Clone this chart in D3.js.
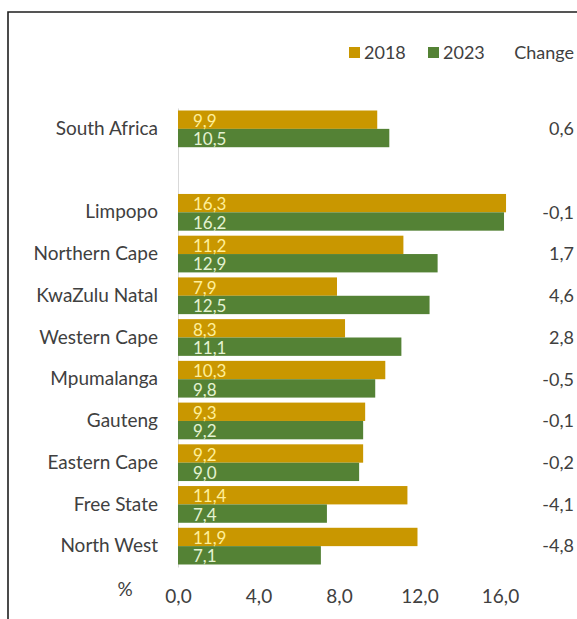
<!DOCTYPE html>
<html>
<head>
<meta charset="utf-8">
<script src="https://cdn.jsdelivr.net/npm/d3@7"></script>
<style>
  html, body { margin: 0; padding: 0; background: #fff; }
  svg { display: block; }
  text { font-family: Lato, "Open Sans", sans-serif; }
</style>
</head>
<body>
<svg id="chart" width="577" height="619"></svg>
<script>
// Regions (South Africa first, then the provinces)
const regions = ["South Africa", "Limpopo", "Northern Cape", "KwaZulu Natal", "Western Cape",
  "Mpumalanga", "Gauteng", "Eastern Cape", "Free State", "North West"];
const values2018 = [9.9, 16.3, 11.2, 7.9, 8.3, 10.3, 9.3, 9.2, 11.4, 11.9];
const values2023 = [10.5, 16.2, 12.9, 12.5, 11.1, 9.8, 9.2, 9.0, 7.4, 7.1];
const changes = [0.6, -0.1, 1.7, 4.6, 2.8, -0.5, -0.1, -0.2, -4.1, -4.8];
const years = ["2018", "2023"];
const xTicks = [0, 4, 8, 12, 16];

const colors = { "2018": "#c99700", "2023": "#548235" };
const valueColors = { "2018": "#ffef9a", "2023": "#e4f2d2" };
const textColor = "#404040";

// Comma decimal separator, plain hyphen for negatives
const locale = d3.formatLocale({ decimal: ",", thousands: " ", grouping: [3], currency: ["", ""], minus: "-" });
const fmt = locale.format(".1f");

const svg = d3.select("#chart");

// Frame
svg.append("path")
  .attr("d", "M8,625 L8,12 L585,12")
  .attr("fill", "none")
  .attr("stroke", "#1e1e1e")
  .attr("stroke-width", 1.6);

// Spacer row between the national figure and the provinces
const GAP = "__gap__";
const yDomain = [regions[0], GAP, ...regions.slice(1)];

const x = d3.scaleLinear().domain([0, 16]).range([178, 500]);
const y = d3.scaleBand().domain(yDomain).range([108, 567]).paddingInner(0.12).paddingOuter(0.06);
const ySub = d3.scaleBand().domain(years).range([0, y.bandwidth()]);

const rows = regions.map((r, i) => ({
  region: r,
  bars: [{ year: "2018", value: values2018[i] }, { year: "2023", value: values2023[i] }],
  change: changes[i]
}));

// Category axis (labels + light baseline)
const yAxis = svg.append("g")
  .attr("transform", `translate(${x(0)},0)`)
  .call(d3.axisLeft(y).tickSize(0).tickPadding(20).tickFormat(d => d === GAP ? "" : d));
yAxis.select(".domain").attr("stroke", "#d9d9d9").attr("stroke-width", 1);
yAxis.selectAll("text")
  .attr("fill", textColor)
  .style("font-family", "Lato, sans-serif")
  .style("font-size", "19px");

// Bars
const groups = svg.append("g").selectAll("g")
  .data(rows)
  .join("g")
  .attr("transform", d => `translate(0,${y(d.region)})`);

groups.selectAll("rect")
  .data(d => d.bars)
  .join("rect")
  .attr("x", x(0))
  .attr("y", d => ySub(d.year))
  .attr("width", d => x(d.value) - x(0))
  .attr("height", ySub.bandwidth())
  .attr("fill", d => colors[d.year]);

groups.selectAll("text.val")
  .data(d => d.bars)
  .join("text")
  .attr("class", "val")
  .attr("x", x(0) + 15)
  .attr("y", d => ySub(d.year) + ySub.bandwidth() - 2)
  .attr("fill", d => valueColors[d.year])
  .style("font-size", "17px")
  .text(d => fmt(d.value));

// Change column
svg.append("g").selectAll("text")
  .data(rows)
  .join("text")
  .attr("x", 574)
  .attr("y", d => y(d.region) + y.bandwidth() / 2)
  .attr("dy", "0.35em")
  .attr("text-anchor", "end")
  .attr("fill", textColor)
  .style("font-size", "18px")
  .text(d => fmt(d.change));

// Value axis
const xAxis = svg.append("g")
  .attr("transform", "translate(0,585)")
  .call(d3.axisBottom(x).tickValues(xTicks).tickSize(0).tickPadding(4).tickFormat(fmt));
xAxis.select(".domain").remove();
xAxis.selectAll("text")
  .attr("fill", textColor)
  .style("font-family", "Lato, sans-serif")
  .style("font-size", "19px");

svg.append("text")
  .attr("x", 125)
  .attr("y", 596)
  .attr("text-anchor", "middle")
  .attr("fill", textColor)
  .style("font-size", "19px")
  .text("%");

// Legend
const legend = svg.append("g");
const legendX = { "2018": 349, "2023": 428 };
years.forEach(yr => {
  legend.append("rect")
    .attr("x", legendX[yr]).attr("y", 47)
    .attr("width", 11).attr("height", 11)
    .attr("fill", colors[yr]);
  legend.append("text")
    .attr("x", legendX[yr] + 15).attr("y", 59)
    .attr("fill", textColor)
    .style("font-size", "18px")
    .text(yr);
});
legend.append("text")
  .attr("x", 574).attr("y", 59)
  .attr("text-anchor", "end")
  .attr("fill", textColor)
  .style("font-size", "18px")
  .text("Change");
</script>
</body>
</html>
